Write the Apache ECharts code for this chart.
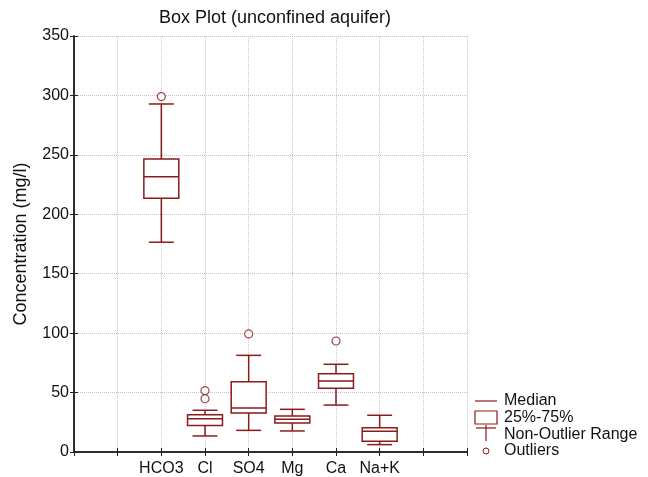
<!DOCTYPE html>
<html>
<head>
<meta charset="utf-8">
<script src="https://cdn.jsdelivr.net/npm/echarts@6/dist/echarts.min.js"></script>
<style>
  html, body { margin: 0; padding: 0; background: #fff; }
  #chart { width: 648px; height: 477px; }
</style>
</head>
<body>
<div id="chart"></div>
<script>
// Ion names and their positions on the x scale
const categories = ['HCO3', 'Cl', 'SO4', 'Mg', 'Ca', 'Na+K'];
const positions = [2, 3, 4, 5, 6, 7];

// Box statistics (mg/l): non-outlier min, 25%, median, 75%, non-outlier max
const whiskerLow  = [176.5, 13.5, 18.2, 17.7, 39.5, 6.2];
const q1          = [213.5, 22.4, 32.8, 24.4, 53.6, 9.0];
const median      = [231.5, 28.0, 37.0, 27.5, 59.7, 17.4];
const q3          = [246.5, 31.4, 59.2, 30.3, 65.9, 20.4];
const whiskerHigh = [292.8, 35.1, 81.3, 35.9, 73.8, 30.9];

// Outliers: [category index, value]
const outliers = [[0, 299], [1, 51.6], [1, 44.8], [2, 99.3], [4, 93.4]];

const yTicks = [0, 50, 100, 150, 200, 250, 300, 350];

const RED = '#8b1a1a';
const FONT = 'Liberation Sans, Arial, Helvetica, sans-serif';

const boxData = positions.map((p, i) => [p, whiskerLow[i], q1[i], median[i], q3[i], whiskerHigh[i]]);
const outlierData = outliers.map(o => [positions[o[0]], o[1]]);

const chart = echarts.init(document.getElementById('chart'), null, { renderer: 'canvas' });

function renderBox(params, api) {
  const x = api.value(0);
  const pLow = api.coord([x, api.value(1)]);
  const pQ1 = api.coord([x, api.value(2)]);
  const pMed = api.coord([x, api.value(3)]);
  const pQ3 = api.coord([x, api.value(4)]);
  const pHigh = api.coord([x, api.value(5)]);
  const unit = api.size([1, 0])[0];
  const halfBox = unit * 0.4;
  const halfCap = unit * 0.285;
  const cx = pMed[0];
  const lineStyle = { stroke: RED, lineWidth: 1.5, fill: null };
  return {
    type: 'group',
    children: [
      { type: 'line', shape: { x1: cx, y1: pHigh[1], x2: cx, y2: pQ3[1] }, style: lineStyle },
      { type: 'line', shape: { x1: cx, y1: pQ1[1], x2: cx, y2: pLow[1] }, style: lineStyle },
      { type: 'line', shape: { x1: cx - halfCap, y1: pHigh[1], x2: cx + halfCap, y2: pHigh[1] }, style: lineStyle },
      { type: 'line', shape: { x1: cx - halfCap, y1: pLow[1], x2: cx + halfCap, y2: pLow[1] }, style: lineStyle },
      { type: 'rect', shape: { x: cx - halfBox, y: pQ3[1], width: halfBox * 2, height: pQ1[1] - pQ3[1] }, style: { stroke: RED, lineWidth: 1.5, fill: '#fff' } },
      { type: 'line', shape: { x1: cx - halfBox, y1: pMed[1], x2: cx + halfBox, y2: pMed[1] }, style: lineStyle }
    ]
  };
}

const labelMap = {};
positions.forEach((p, i) => { labelMap[p] = categories[i]; });

const gridLine = { show: true, lineStyle: { color: '#c4c4c4', type: [1, 1], width: 1 } };
const frameLine = { show: true, lineStyle: { color: '#222', width: 1.5 } };

// Legend glyphs and labels drawn beside the plot
const legendX = 475, legendTextX = 504;
const legendRows = [401, 418, 435, 451];
const legendLabels = ['Median', '25%-75%', 'Non-Outlier Range', 'Outliers'];

const legendGraphics = [
  { type: 'line', shape: { x1: legendX, y1: legendRows[0], x2: legendX + 22, y2: legendRows[0] }, style: { stroke: RED, lineWidth: 1.2 } },
  { type: 'rect', shape: { x: legendX, y: legendRows[1] - 7, width: 22, height: 13 }, style: { stroke: RED, lineWidth: 1.2, fill: '#fff' } },
  { type: 'line', shape: { x1: legendX + 1, y1: legendRows[2] - 7, x2: legendX + 21, y2: legendRows[2] - 7 }, style: { stroke: RED, lineWidth: 1.2 } },
  { type: 'line', shape: { x1: legendX + 11, y1: legendRows[2] - 10, x2: legendX + 11, y2: legendRows[2] + 6 }, style: { stroke: RED, lineWidth: 1.2 } },
  { type: 'circle', shape: { cx: legendX + 11, cy: legendRows[3], r: 3 }, style: { stroke: RED, lineWidth: 1, fill: '#fff' } }
].concat(legendLabels.map((t, i) => ({
  type: 'text', x: legendTextX, y: legendRows[i],
  style: { text: t, font: '16px ' + FONT, fill: '#111', textVerticalAlign: 'middle', textBaseline: 'middle' }
})));

chart.setOption({
  animation: false,
  backgroundColor: '#fff',
  title: {
    text: 'Box Plot (unconfined aquifer)',
    left: 275, top: 9, textAlign: 'center', padding: 0,
    textStyle: { fontFamily: FONT, fontSize: 18, fontWeight: 'normal', color: '#111' }
  },
  grid: { left: 74, right: 181, top: 36, bottom: 25, containLabel: false },
  xAxis: [
    {
      type: 'value', min: 0, max: 9, interval: 1, position: 'bottom',
      axisLine: frameLine,
      axisTick: { show: true, inside: true, length: 4, lineStyle: { color: '#222' } },
      axisLabel: { fontFamily: FONT, fontSize: 16, color: '#111', margin: 9,
        formatter: v => labelMap[v] || '' },
      splitLine: gridLine
    },
    {
      type: 'value', min: 0, max: 9, interval: 1, position: 'top',
      axisLine: frameLine,
      axisTick: { show: true, inside: true, length: 4, lineStyle: { color: '#222' } },
      axisLabel: { show: false }, splitLine: { show: false }
    }
  ],
  yAxis: [
    {
      type: 'value', min: 0, max: 350, interval: 50, position: 'left',
      name: 'Concentration (mg/l)', nameLocation: 'middle', nameGap: 44, nameRotate: 90,
      nameTextStyle: { fontFamily: FONT, fontSize: 18, color: '#111' },
      axisLine: frameLine,
      axisTick: { show: true, inside: true, length: 4, lineStyle: { color: '#222' } },
      axisLabel: { fontFamily: FONT, fontSize: 16, color: '#111', margin: 5,
        formatter: v => (yTicks.indexOf(v) >= 0 ? String(v) : '') },
      splitLine: gridLine
    },
    {
      type: 'value', min: 0, max: 350, interval: 50, position: 'right',
      axisLine: frameLine,
      axisTick: { show: true, inside: true, length: 4, lineStyle: { color: '#222' } },
      axisLabel: { show: false }, splitLine: { show: false }
    }
  ],
  series: [
    {
      type: 'custom', name: 'box', xAxisIndex: 0, yAxisIndex: 0,
      renderItem: renderBox, data: boxData,
      encode: { x: 0, y: [1, 2, 3, 4, 5] }, z: 3
    },
    {
      type: 'scatter', name: 'Outliers', xAxisIndex: 0, yAxisIndex: 0,
      data: outlierData, symbol: 'circle', symbolSize: 8,
      itemStyle: { color: '#fff', borderColor: RED, borderWidth: 1.2 }, z: 4
    }
  ],
  graphic: legendGraphics
});
</script>
</body>
</html>
